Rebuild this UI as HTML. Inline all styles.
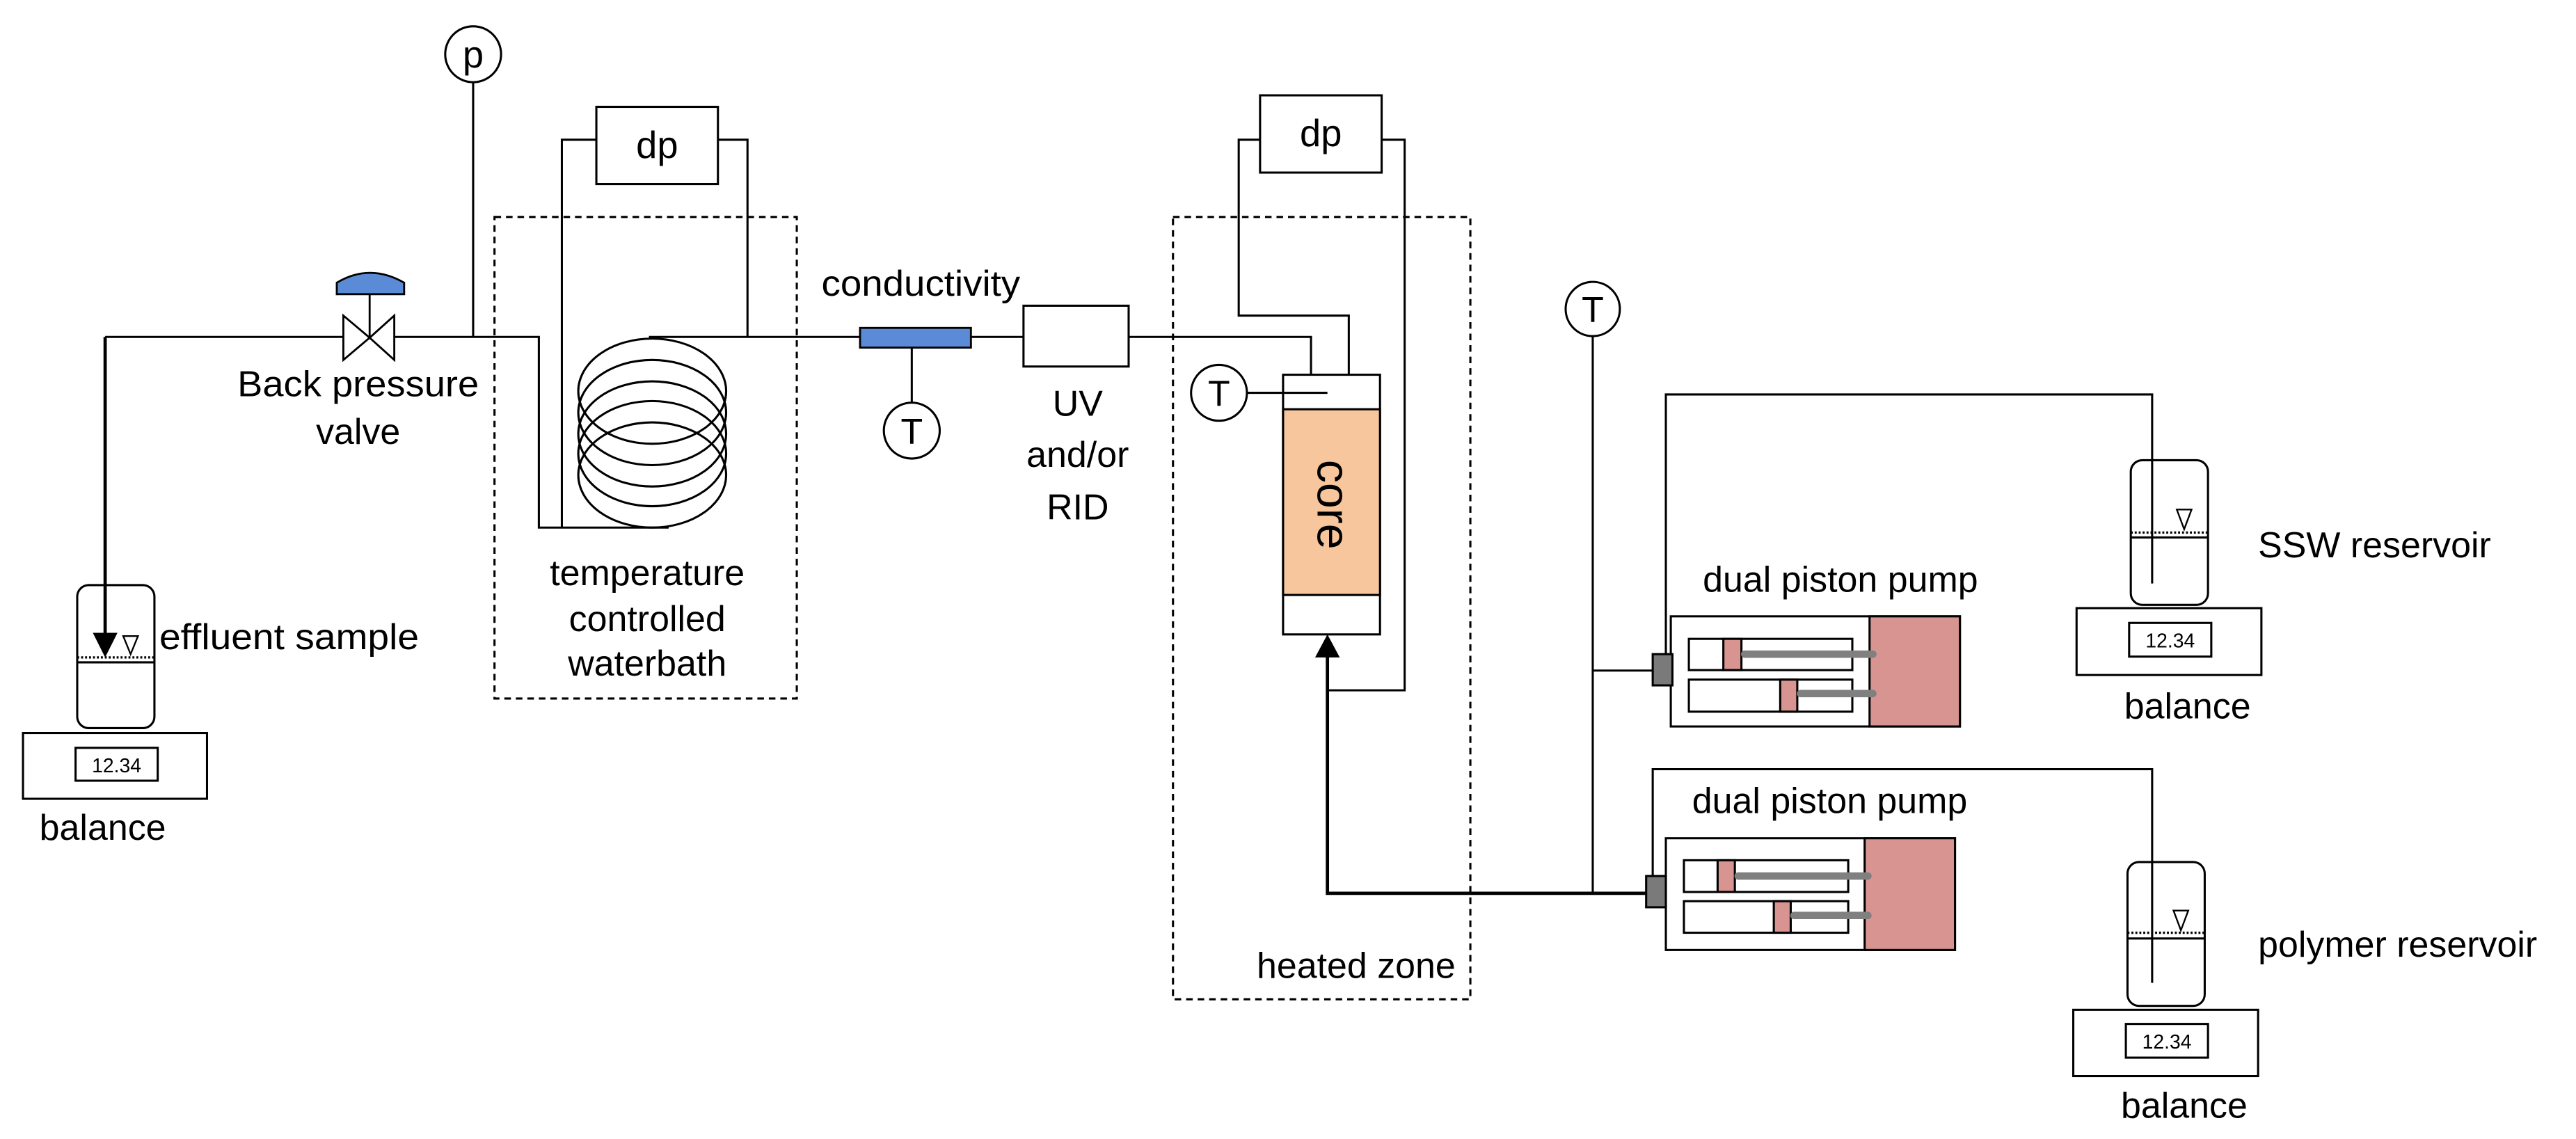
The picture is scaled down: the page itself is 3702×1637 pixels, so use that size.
<!DOCTYPE html>
<html><head><meta charset="utf-8"><style>
html,body{margin:0;padding:0;background:#fff;}
svg{display:block;}
text{font-family:"Liberation Sans",Arial,sans-serif;fill:#000;}
</style></head><body>
<svg width="3702" height="1637" viewBox="0 0 1568 693" preserveAspectRatio="none" xmlns="http://www.w3.org/2000/svg">
<rect width="1568" height="693" fill="#fff"/>
<g fill="none" stroke="#000" stroke-width="1.3">
<circle cx="288" cy="33" r="17" fill="#fff"/>
<line x1="288" y1="50" x2="288" y2="205"/>
<polyline points="64,205 328,205 328,321 407,321"/>
<rect x="363" y="65" width="74" height="47" fill="#fff"/>
<polyline points="363,85 342,85 342,321"/>
<polyline points="437,85 455,85 455,205"/>
<rect x="301" y="132" width="184" height="293" stroke-dasharray="4,3"/>
<ellipse cx="397" cy="238" rx="45" ry="32"/>
<ellipse cx="397" cy="251" rx="45" ry="32"/>
<ellipse cx="397" cy="264" rx="45" ry="32"/>
<ellipse cx="397" cy="276" rx="45" ry="32"/>
<ellipse cx="397" cy="289" rx="45" ry="32"/>
<line x1="395" y1="205" x2="524" y2="205"/>
<line x1="555" y1="212" x2="555" y2="245"/>
<circle cx="555" cy="262" r="17" fill="#fff"/>
<line x1="591" y1="205" x2="623" y2="205"/>
<rect x="623" y="186" width="64" height="37" fill="#fff"/>
<polyline points="687,205 798,205 798,228"/>
<rect x="767" y="58" width="74" height="47" fill="#fff"/>
<polyline points="767,85 754,85 754,192 821,192 821,228"/>
<polyline points="841,85 855,85 855,420 808,420"/>
<rect x="714" y="132" width="181" height="476" stroke-dasharray="4,3"/>
<rect x="781" y="228" width="59" height="158" fill="#fff"/>
<rect x="781" y="249" width="59" height="113" fill="#F8C69C"/>
<circle cx="742" cy="239" r="17" fill="#fff"/>
<line x1="759" y1="239" x2="808" y2="239"/>
<circle cx="969.5" cy="188" r="16.5" fill="#fff"/>
<line x1="969.5" y1="204.5" x2="969.5" y2="544"/>
<line x1="969.5" y1="408" x2="1006" y2="408"/>
<polyline points="1014,398 1014,240 1310,240 1310,355"/>
<polyline points="1006,535 1006,468 1310,468 1310,598"/>
<rect x="1297" y="280" width="47" height="88" rx="7" fill="none"/>
<line x1="1297" y1="327" x2="1344" y2="327"/>
<rect x="1295" y="524.5" width="47" height="87.5" rx="7"/>
<line x1="1295" y1="571" x2="1342" y2="571"/>
<rect x="47" y="356" width="47" height="87" rx="7"/>
<line x1="47" y1="403" x2="94" y2="403"/>
<rect x="14" y="446" width="112" height="40"/>
<rect x="46" y="455" width="50" height="20"/>
<rect x="1264" y="370" width="112.5" height="40.7"/>
<rect x="1296" y="379" width="50" height="20.5"/>
<rect x="1262" y="614.4" width="112.5" height="40.3"/>
<rect x="1294" y="623" width="50" height="20.5"/>
<polygon points="75,387 84,387 79.5,398" stroke-width="1"/>
<polygon points="1325,310 1334,310 1329.5,322" stroke-width="1"/>
<polygon points="1323,554 1332,554 1327.5,566" stroke-width="1"/>
</g>
<g stroke="#000" stroke-width="1.4" stroke-dasharray="1.2,1.2">
<line x1="47" y1="400" x2="94" y2="400"/>
<line x1="1297" y1="324" x2="1344" y2="324"/>
<line x1="1295" y1="567.5" x2="1342" y2="567.5"/>
</g>
<g stroke="#000" stroke-width="2" fill="none">
<line x1="64" y1="205" x2="64" y2="387"/>
<polyline points="1002,543.5 808,543.5 808,398"/>
</g>
<polygon points="56.5,385 71.5,385 64,400" fill="#000"/>
<polygon points="800.5,400 815.5,400 808,386" fill="#000"/>
<g stroke="#000" stroke-width="1.2">
<polygon points="209,192 225,205.5 209,219" fill="#fff"/>
<polygon points="240,192 225,205.5 240,219" fill="#fff"/>
<line x1="225" y1="179" x2="225" y2="205.5"/>
<path d="M205,179 L205,172 Q225,160 246,172 L246,179 Z" fill="#5B8BD6"/>
</g>
<rect x="523.5" y="199.5" width="67.5" height="12" fill="#5B8BD6" stroke="#000" stroke-width="1.2"/>
<g stroke="#000" stroke-width="1.3">
<rect x="1017" y="375" width="176" height="67" fill="#fff"/>
<rect x="1138" y="375" width="55" height="67" fill="#D89490"/>
<rect x="1028" y="388.7" width="99.5" height="19" fill="#fff"/>
<rect x="1028" y="413.5" width="99.5" height="19.5" fill="#fff"/>
<rect x="1049" y="388.7" width="11" height="19" fill="#D89490"/>
<rect x="1083.6" y="413.5" width="10.4" height="19.5" fill="#D89490"/>
<rect x="1006" y="398" width="12" height="19" fill="#7A7A7A"/>
<rect x="1014" y="510" width="176" height="68" fill="#fff"/>
<rect x="1135" y="510" width="55" height="68" fill="#D89490"/>
<rect x="1025" y="523.4" width="100" height="19.3" fill="#fff"/>
<rect x="1025" y="548.3" width="100" height="19.2" fill="#fff"/>
<rect x="1045.5" y="523.4" width="10.5" height="19.3" fill="#D89490"/>
<rect x="1079.7" y="548.3" width="10.3" height="19.2" fill="#D89490"/>
<rect x="1002" y="533" width="12" height="19" fill="#7A7A7A"/>
</g>
<g stroke="#808080" stroke-width="4.5" stroke-linecap="round">
<line x1="1062" y1="398" x2="1140" y2="398"/>
<line x1="1096" y1="422" x2="1140" y2="422"/>
<line x1="1058" y1="533" x2="1137" y2="533"/>
<line x1="1092" y1="557" x2="1137" y2="557"/>
</g>
<g font-size="22">
<text x="288" y="41" text-anchor="middle" font-size="23">p</text>
<text x="400" y="96" text-anchor="middle" font-size="23">dp</text>
<text x="804" y="89" text-anchor="middle" font-size="23">dp</text>
<text x="218" y="241" text-anchor="middle" textLength="147" lengthAdjust="spacingAndGlyphs">Back pressure</text>
<text x="218" y="270" text-anchor="middle">valve</text>
<text x="97" y="395" textLength="158" lengthAdjust="spacingAndGlyphs">effluent sample</text>
<text x="24" y="511">balance</text>
<text x="394" y="356" text-anchor="middle">temperature</text>
<text x="394" y="384" text-anchor="middle">controlled</text>
<text x="394" y="411" text-anchor="middle">waterbath</text>
<text x="500" y="180" textLength="121" lengthAdjust="spacingAndGlyphs">conductivity</text>
<text x="555" y="270" text-anchor="middle">T</text>
<text x="742" y="247" text-anchor="middle">T</text>
<text x="969.5" y="196" text-anchor="middle">T</text>
<text x="656" y="253" text-anchor="middle">UV</text>
<text x="656" y="284" text-anchor="middle">and/or</text>
<text x="656" y="316" text-anchor="middle">RID</text>
<text x="886" y="595" text-anchor="end">heated zone</text>
<text x="1036.5" y="360">dual piston pump</text>
<text x="1030" y="494.7">dual piston pump</text>
<text x="1374.5" y="339">SSW reservoir</text>
<text x="1374.5" y="582">polymer reservoir</text>
<text x="1293" y="437">balance</text>
<text x="1291" y="680">balance</text>
<text transform="translate(802,307) rotate(90)" text-anchor="middle" font-size="28">core</text>
</g>
<g font-size="12">
<text x="71" y="470" text-anchor="middle">12.34</text>
<text x="1321" y="394" text-anchor="middle">12.34</text>
<text x="1319" y="638" text-anchor="middle">12.34</text>
</g>
</svg>
</body></html>
